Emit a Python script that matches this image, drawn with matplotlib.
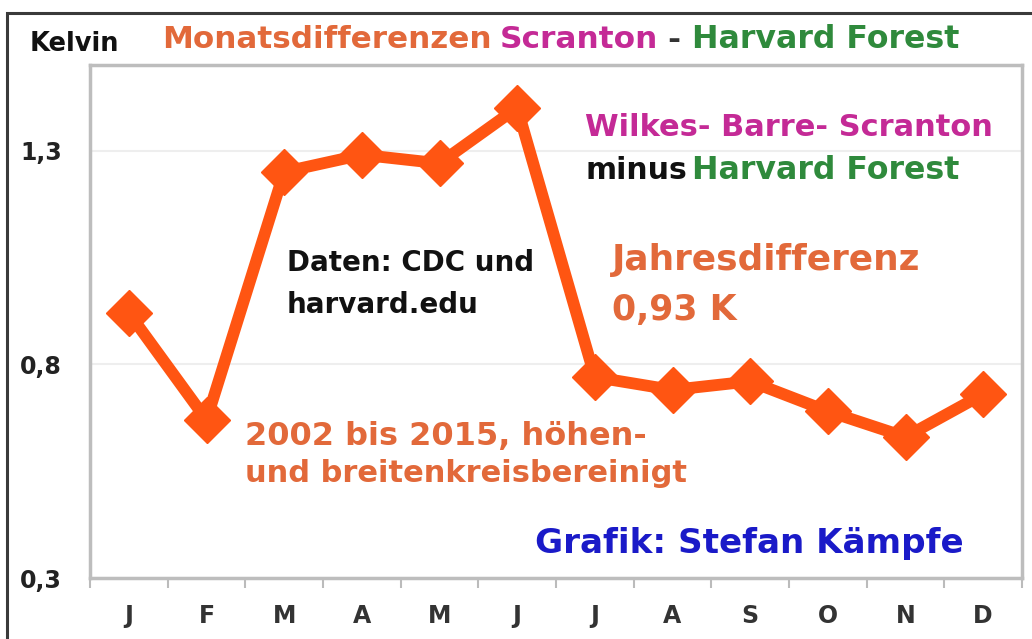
import numpy as np
import matplotlib
matplotlib.use('Agg')
import matplotlib.pyplot as plt
from matplotlib.patches import Rectangle

# monthly differences Scranton minus Harvard Forest (K)
months = ['J', 'F', 'M', 'A', 'M', 'J', 'J', 'A', 'S', 'O', 'N', 'D']
diff = [0.92, 0.67, 1.25, 1.29, 1.27, 1.40, 0.77, 0.74, 0.76, 0.69, 0.63, 0.73]
yticks = [0.3, 0.8, 1.3]
ytick_labels = ['0,3', '0,8', '1,3']

W, H = 1032, 639
orange_txt = '#e2693a'
line_col = '#ff5512'
magenta = '#c42a96'
green = '#2f8a3c'
blue = '#1a1ac8'

plt.rcParams['font.family'] = ['DejaVu Sans']
plt.rcParams['font.weight'] = 'bold'

fig = plt.figure(figsize=(W / 100, H / 100), dpi=100)
fig.patch.set_facecolor('white')

# outer dark frame (only left and top visible)
fig.patches.append(Rectangle((7 / W, -0.1), 1.2, 1 - 13 / H + 0.1, transform=fig.transFigure,
                             fill=False, edgecolor='#3a3a3a', linewidth=2.2))

ax = fig.add_axes([90 / W, 1 - 578 / H, (1022 - 90) / W, (578 - 65) / H])
x = np.arange(len(months))
ax.plot(x, diff, color=line_col, linewidth=8.5, marker='D', markersize=23,
        solid_joinstyle='round', zorder=3)

ax.set_xlim(-0.5, len(months) - 0.5)
ax.set_ylim(0.3, 1.5)
ax.set_yticks(yticks)
ax.set_yticklabels(ytick_labels, fontsize=17, fontweight='bold', color='#222222')
ax.tick_params(axis='y', length=0, pad=20)
ax.set_xticks(np.arange(-0.5, len(months), 1))
ax.set_xticklabels([])
ax.set_xticks(x, minor=True)
ax.set_xticklabels(months, minor=True, fontsize=17, fontweight='bold', color='#333333')
ax.tick_params(axis='x', which='major', length=7, width=1.5, color='#bbbbbb', direction='out')
ax.tick_params(axis='x', which='minor', length=0, pad=19)
ax.grid(axis='y', color='#eeeeee', linewidth=1.5, zorder=0)
for s in ax.spines.values():
    s.set_color('#bdbdbd')
    s.set_linewidth(2.5)


def ftxt(px, py, s, color, size, ha='left'):
    fig.text(px / W, 1 - py / H, s, color=color, fontsize=size, fontweight='bold',
             ha=ha, va='center')


# header
ftxt(30, 44, 'Kelvin', '#111111', 18.5)
ftxt(162, 40, 'Monatsdifferenzen', orange_txt, 22.3)
ftxt(500, 40, 'Scranton', magenta, 22.5)
ftxt(667, 40, '-', '#333333', 22.5)
ftxt(692, 40, 'Harvard Forest', green, 22.8)

# annotations
ftxt(585, 127, 'Wilkes- Barre- Scranton', magenta, 22)
ftxt(585, 170, 'minus', '#111111', 21.5)
ftxt(692, 170, 'Harvard Forest', green, 22.8)
ftxt(287, 263, 'Daten: CDC und', '#111111', 20)
ftxt(287, 305, 'harvard.edu', '#111111', 20)
ftxt(612, 260, 'Jahresdifferenz', orange_txt, 25.8)
ftxt(612, 310, '0,93 K', orange_txt, 25)
ftxt(245, 437, '2002 bis 2015, höhen-', orange_txt, 23)
ftxt(245, 473, 'und breitenkreisbereinigt', orange_txt, 22)
ftxt(535, 543, 'Grafik: Stefan Kämpfe', blue, 24.6)

fig.savefig('out.png', dpi=100, facecolor='white')
